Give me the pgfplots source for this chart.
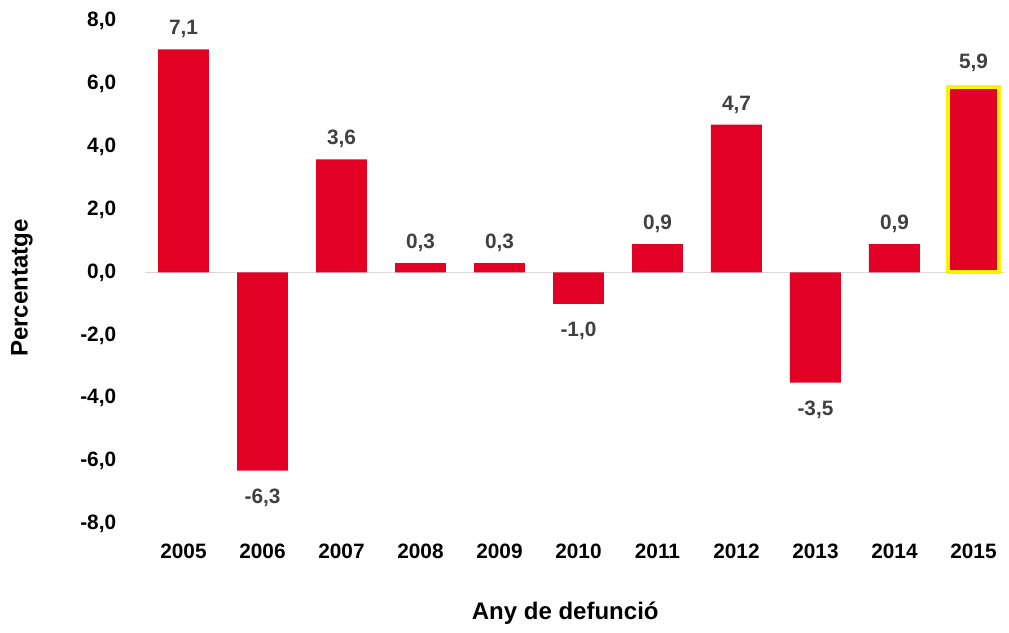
\documentclass[border=0pt]{standalone}
\usepackage{pgfplots}
\pgfplotsset{compat=1.18}
\usetikzlibrary{calc}
\usepackage{fontspec}
\setmainfont{Liberation Sans}
\definecolor{barred}{RGB}{226,0,36}
\definecolor{lblgray}{RGB}{64,64,64}
\definecolor{zerogray}{RGB}{217,217,217}
\newcommand{\lblfont}{\bfseries\fontsize{10.4}{12}\selectfont}
\begin{document}
\begin{tikzpicture}
\begin{axis}[
  scale only axis,
  width=432.5pt, height=251.5pt,
  xmin=-0.5, xmax=10.45, ymin=-8, ymax=8,
  ytick={-8,-6,-4,-2,0,2,4,6,8},
  xtick={0,1,2,3,4,5,6,7,8,9,10},
  xticklabels={2005,2006,2007,2008,2009,2010,2011,2012,2013,2014,2015},
  axis line style={draw=none},
  major tick length=0pt,
  ybar,
  bar width=0.645,
  clip=false,
  /pgf/number format/fixed,
  /pgf/number format/fixed zerofill,
  /pgf/number format/precision=1,
  /pgf/number format/use comma,
  /pgf/number format/assume math mode=true,
  tick label style={font=\lblfont, text=black},
  xticklabel style={yshift=-6.5pt},
  yticklabel style={xshift=-10.4pt},
  ylabel={Percentatge},
  xlabel={Any de defunció},
  label style={font=\bfseries\fontsize{12}{14}\selectfont},
  ylabel style={at={(axis description cs:-0.141,0.469)}, anchor=center},
  xlabel style={at={(axis description cs:0.487,-0.177)}, anchor=center},
  nodes near coords,
  nodes near coords style={font=\lblfont, text=lblgray},
]
\coordinate (ll) at (rel axis cs:0,0);
\coordinate (ur) at (rel axis cs:1,1);
\draw[zerogray, line width=0.75pt] (axis cs:-0.49,0) -- (axis cs:10.4,0);
% positive values
\addplot[fill=barred, draw=none, bar shift=0pt,
  every node near coord/.append style={inner sep=5.5pt}]
  coordinates {(0,7.1) (2,3.6) (3,0.3) (4,0.3) (6,0.9) (7,4.7) (9,0.9)};
% negative values
\addplot[fill=barred, draw=none, bar shift=0pt,
  every node near coord/.append style={inner sep=9pt}]
  coordinates {(1,-6.3) (5,-1.0) (8,-3.5)};
% highlighted 2015
\addplot[fill=barred, draw=yellow, line width=2pt, bar shift=0pt,
  every node near coord/.append style={inner sep=6.5pt}]
  coordinates {(10,5.9)};
\end{axis}
\pgfresetboundingbox
\path[use as bounding box] ($(ll)+(-72pt,-54.5pt)$) rectangle ($(ur)+(0pt,10.5pt)$);
\end{tikzpicture}
\end{document}
